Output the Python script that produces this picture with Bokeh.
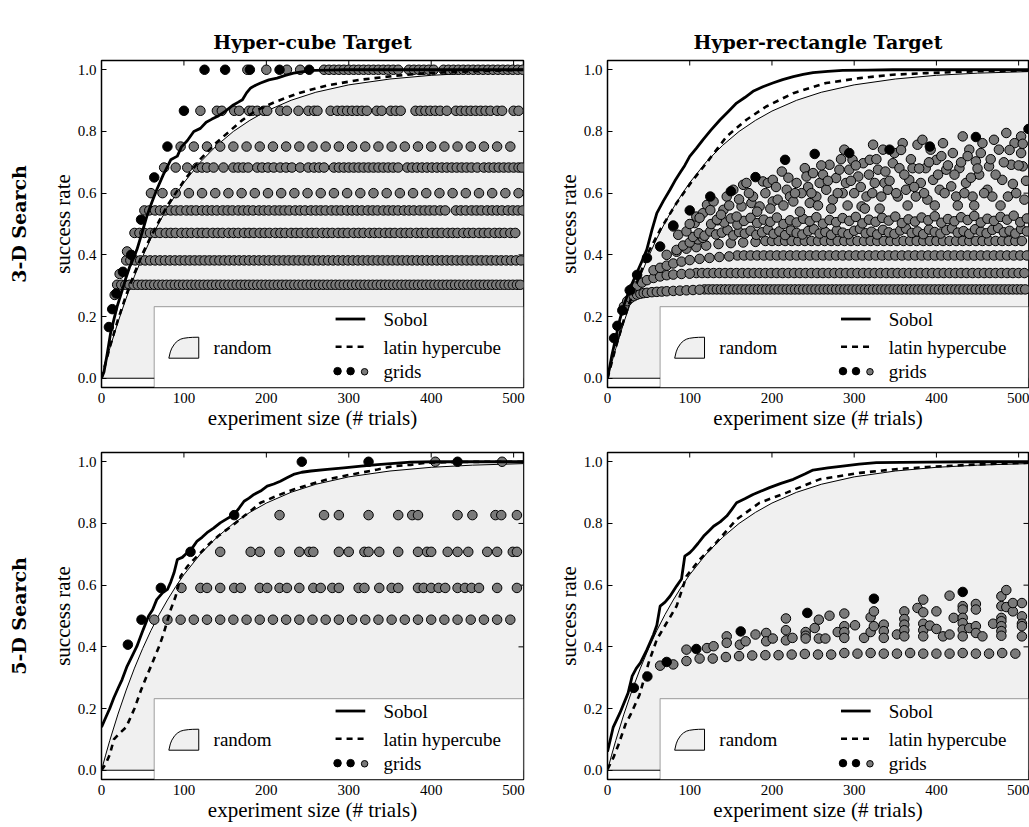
from bokeh.plotting import figure
from bokeh.models import (Range1d, FixedTicker, NumeralTickFormatter, LinearAxis,
                          Title, BoxAnnotation, Label)
from bokeh.layouts import column, row
from bokeh.embed import file_html
from bokeh.resources import INLINE

# ---------------------------------------------------------------- data
X_TICKS = [0, 100, 200, 300, 400, 500]
Y_TICKS = [0.0, 0.2, 0.4, 0.6, 0.8, 1.0]
COL_TITLES = ["Hyper-cube Target", "Hyper-rectangle Target"]
ROW_TITLES = ["3-D Search", "5-D Search"]

RANDOM_N = [0, 5, 10, 20, 30, 40, 50, 60, 70, 80, 90, 100, 120, 140, 160, 180, 200, 230, 260, 300, 350, 400, 450, 512]
RANDOM_RATE = [0, 0.049, 0.096, 0.182, 0.26, 0.331, 0.395, 0.453, 0.505, 0.552, 0.595, 0.634, 0.701, 0.755, 0.800, 0.836, 0.866, 0.901, 0.927, 0.951, 0.970, 0.982, 0.989, 0.994]

# --- 3-D, hyper-cube
TL_SOBOL_N = [0, 3, 7, 11, 15, 19, 24, 29, 34, 39, 43, 49, 55, 61, 67, 75, 84, 92, 97, 104, 112, 120, 127, 134, 141, 150, 160, 166, 171, 176, 181, 187, 193, 203, 213, 223, 233, 245, 258, 275, 294, 512]
TL_SOBOL_Y = [0, 0.02, 0.08, 0.146, 0.19, 0.233, 0.275, 0.32, 0.36, 0.39, 0.417, 0.47, 0.525, 0.57, 0.611, 0.66, 0.708, 0.72, 0.75, 0.77, 0.80, 0.81, 0.83, 0.84, 0.849, 0.865, 0.886, 0.895, 0.903, 0.925, 0.941, 0.95, 0.957, 0.967, 0.973, 0.982, 0.989, 0.994, 0.998, 0.999, 1.0, 1.0]
TL_LHS_N = [0, 5, 10, 20, 30, 40, 50, 60, 70, 80, 90, 100, 120, 140, 155, 170, 187, 210, 240, 275, 315, 355, 400, 450, 512]
TL_LHS_Y = [0, 0.05, 0.1, 0.19, 0.27, 0.34, 0.405, 0.46, 0.51, 0.56, 0.6, 0.64, 0.71, 0.765, 0.80, 0.835, 0.867, 0.895, 0.925, 0.95, 0.968, 0.98, 0.99, 0.995, 1.0]
TL_ROW_LEVELS = [1.0, 0.867, 0.751, 0.683, 0.600, 0.544, 0.471, 0.382, 0.303]
TL_ROW_1000 = [177, 200, 225, 241, 270, 276, 282, 288, 294, 300, 306, 312, 318, 324, 330, 336, 342, 348, 354, 360, 373, 379, 385, 391, 397, 403, 415, 421, 427, 433, 439, 445, 451, 457, 463, 469, 475, 481, 487, 493, 499, 505, 511]
TL_ROW_0867 = [120, 140, 146, 161, 167, 179, 183, 189, 197, 201, 217, 225, 239, 251, 258, 262, 278, 286, 292, 298, 304, 310, 316, 322, 334, 340, 351, 357, 363, 381, 387, 393, 399, 405, 411, 419, 430, 436, 442, 448, 454, 460, 466, 472, 480, 486, 500, 506]
TL_ROW_0751 = [96, 112, 128, 144, 160, 176, 192, 208, 224, 240, 256, 272, 288, 304, 320, 336, 352, 368, 384, 400, 416, 432, 448, 464, 480, 496]
TL_ROW_0683 = [76, 90, 104, 116, 122, 128, 136, 148, 160, 166, 172, 178, 189, 195, 202, 209, 217, 224, 231, 241, 251, 258, 264, 270, 282, 288, 294, 300, 306, 312, 318, 324, 330, 336, 342, 348, 354, 360, 371, 377, 383, 389, 395, 401, 407, 413, 419, 425, 431, 437, 443, 449, 456, 464, 470, 476, 482, 488, 494, 500, 506, 510]
TL_ROW_0600 = [60, 74, 90, 106, 122, 138, 154, 170, 186, 202, 218, 234, 250, 266, 282, 298, 314, 330, 346, 362, 378, 394, 410, 426, 442, 458, 474, 490, 506]
TL_ROW_0544 = [52, 58, 65, 71, 77, 84, 90, 96, 103, 109, 115, 122, 128, 134, 140, 147, 153, 159, 166, 172, 178, 184, 191, 197, 203, 210, 216, 222, 228, 235, 241, 247, 254, 260, 266, 272, 279, 285, 291, 298, 304, 310, 316, 323, 329, 335, 342, 348, 354, 360, 367, 373, 379, 386, 392, 398, 404, 411, 417, 430, 436, 442, 449, 455, 461, 468, 474, 480, 486, 493, 499, 505, 511]
TL_ROW_0471 = [40, 46, 52, 59, 65, 71, 78, 84, 90, 97, 103, 109, 116, 122, 128, 135, 141, 147, 154, 160, 166, 173, 179, 185, 192, 198, 204, 211, 217, 223, 230, 236, 242, 249, 255, 261, 268, 274, 280, 287, 293, 299, 306, 312, 318, 325, 331, 337, 344, 350, 356, 363, 369, 375, 382, 388, 394, 401, 407, 413, 420, 426, 432, 439, 445, 451, 458, 464, 470, 477, 483, 489, 496, 502]
TL_ROW_0382 = [30, 35, 41, 47, 53, 59, 65, 71, 77, 83, 89, 95, 101, 107, 113, 119, 125, 131, 137, 143, 149, 155, 161, 167, 173, 179, 185, 191, 197, 203, 209, 215, 221, 227, 233, 239, 245, 251, 257, 263, 269, 275, 281, 287, 293, 299, 305, 311, 317, 323, 329, 335, 341, 347, 353, 359, 365, 371, 377, 383, 389, 395, 401, 407, 413, 419, 425, 431, 437, 443, 449, 455, 461, 467, 473, 479, 485, 491, 497, 503, 509]
TL_ROW_0303 = [19, 24, 29, 34, 39, 44, 49, 54, 59, 64, 69, 74, 79, 84, 89, 94, 99, 104, 109, 114, 119, 124, 129, 134, 139, 144, 149, 154, 159, 164, 169, 174, 179, 184, 189, 194, 199, 204, 209, 214, 219, 224, 229, 234, 239, 244, 249, 254, 259, 264, 269, 274, 279, 284, 289, 294, 299, 304, 309, 314, 319, 324, 329, 334, 339, 344, 349, 354, 359, 364, 369, 374, 379, 384, 389, 394, 399, 404, 409, 414, 419, 424, 429, 434, 439, 444, 449, 454, 459, 464, 469, 474, 479, 484, 489, 494, 499, 504, 508]
TL_GRAY_EXTRA = [(16, 0.27), (22, 0.338), (31, 0.411)]
TL_BLACK = [(9, 0.166), (13, 0.224), (18, 0.275), (26, 0.345), (36, 0.40), (48, 0.514), (64, 0.651), (80, 0.751), (100, 0.867), (125, 1.0), (150, 1.0), (180, 1.0), (216, 1.0), (252, 1.0)]

# --- 3-D, hyper-rectangle
TR_SOBOL_N = [0, 5, 10, 15, 19.5, 27, 35.6, 42, 47.8, 54, 60, 68, 76, 82, 88, 94, 100, 108, 116, 126, 137, 147, 157, 167, 177, 189, 201, 213, 226, 238, 250, 268, 286, 316, 347, 512]
TR_SOBOL_Y = [0, 0.07, 0.13, 0.19, 0.233, 0.29, 0.341, 0.38, 0.417, 0.48, 0.535, 0.575, 0.611, 0.64, 0.665, 0.69, 0.719, 0.745, 0.773, 0.805, 0.838, 0.865, 0.892, 0.91, 0.93, 0.945, 0.957, 0.968, 0.978, 0.985, 0.991, 0.995, 0.998, 0.999, 1.0, 1.0]
TR_LHS_N = [0, 5, 10, 20, 30, 40, 50, 64, 84, 104, 121, 145, 169, 193, 226, 266, 307, 347, 388, 448, 512]
TR_LHS_Y = [0, 0.05, 0.1, 0.19, 0.27, 0.34, 0.41, 0.481, 0.568, 0.643, 0.70, 0.784, 0.838, 0.881, 0.924, 0.957, 0.973, 0.984, 0.989, 0.995, 0.998]
TR_ROW_LEVELS = [0.288, 0.341, 0.398, 0.445]
TR_ROW_A = [118, 123, 128, 133, 138, 143, 148, 153, 158, 163, 168, 173, 178, 183, 188, 193, 198, 203, 208, 213, 218, 223, 228, 233, 238, 243, 248, 253, 258, 263, 268, 273, 278, 283, 288, 293, 298, 303, 308, 313, 318, 323, 328, 333, 338, 343, 348, 353, 358, 363, 368, 373, 378, 383, 388, 393, 398, 403, 408, 413, 418, 423, 428, 433, 438, 443, 448, 453, 458, 463, 468, 473, 478, 483, 488, 493, 498, 503, 508]
TR_ROW_B = [108, 115, 122, 129, 136, 143, 150, 157, 164, 171, 178, 185, 192, 199, 206, 213, 220, 227, 234, 241, 248, 255, 262, 269, 276, 283, 290, 297, 304, 311, 318, 325, 332, 339, 346, 353, 360, 367, 374, 381, 388, 395, 402, 409, 416, 423, 430, 437, 444, 451, 458, 465, 472, 479, 486, 493, 500, 507]
TR_ROW_C = [158, 166, 174, 182, 190, 198, 206, 214, 222, 230, 238, 246, 254, 262, 270, 278, 286, 294, 302, 310, 318, 326, 334, 342, 350, 358, 366, 374, 382, 390, 398, 406, 414, 422, 430, 438, 446, 454, 462, 470, 478, 486, 494, 502, 510]
TR_ROW_D = [192, 200, 208, 216, 224, 232, 240, 248, 256, 264, 272, 280, 288, 296, 304, 312, 320, 328, 336, 344, 352, 360, 368, 376, 384, 392, 400, 408, 416, 424, 432, 440, 448, 456, 464, 472, 480, 488, 496, 504]
TR_RISE = [(20, 0.233), (24, 0.25), (28, 0.26), (32, 0.266), (36, 0.271), (40, 0.274), (44, 0.276), (48, 0.277), (54, 0.279), (60, 0.28), (66, 0.281), (72, 0.282), (80, 0.283), (88, 0.284), (96, 0.285), (104, 0.286), (112, 0.287),
           (30, 0.29), (36, 0.30), (42, 0.31), (48, 0.318), (56, 0.325), (64, 0.33), (72, 0.334), (80, 0.336), (90, 0.338), (100, 0.339),
           (56, 0.35), (64, 0.358), (72, 0.365), (80, 0.372), (90, 0.378), (100, 0.383), (112, 0.387), (124, 0.39), (136, 0.393), (148, 0.395),
           (72, 0.40), (84, 0.41), (96, 0.42), (108, 0.425), (120, 0.43), (135, 0.435), (150, 0.438), (165, 0.44), (180, 0.442),
           (84, 0.416), (92, 0.43), (100, 0.44), (110, 0.45), (116, 0.455)]
TR_BAND_E = [(104, 0.458), (111, 0.47), (118, 0.462), (125, 0.476), (132, 0.466), (139, 0.472), (146, 0.48), (153, 0.463), (160, 0.474), (167, 0.469), (174, 0.478), (181, 0.465), (188, 0.473), (195, 0.482), (202, 0.468), (209, 0.476), (216, 0.464), (223, 0.479), (230, 0.471), (237, 0.466), (244, 0.477), (251, 0.483), (258, 0.469), (265, 0.474), (272, 0.465), (279, 0.48), (286, 0.472), (293, 0.467), (300, 0.478), (307, 0.484), (314, 0.47), (321, 0.475), (328, 0.466), (335, 0.481), (342, 0.473), (349, 0.468), (356, 0.479), (363, 0.485), (370, 0.471), (377, 0.476), (384, 0.467), (391, 0.482), (398, 0.474), (405, 0.469), (412, 0.48), (419, 0.486), (426, 0.472), (433, 0.477), (440, 0.468), (447, 0.483), (454, 0.475), (461, 0.47), (468, 0.481), (475, 0.487), (482, 0.473), (489, 0.478), (496, 0.469), (503, 0.484), (510, 0.476)]
TR_BAND_F = [(126, 0.50), (134, 0.512), (142, 0.505), (150, 0.518), (158, 0.498), (166, 0.51), (174, 0.52), (182, 0.503), (190, 0.514), (198, 0.507), (206, 0.521), (214, 0.5), (222, 0.512), (230, 0.505), (238, 0.517), (246, 0.509), (254, 0.522), (262, 0.501), (270, 0.513), (278, 0.506), (286, 0.519), (294, 0.51), (302, 0.523), (310, 0.502), (318, 0.514), (326, 0.507), (334, 0.52), (342, 0.511), (350, 0.524), (358, 0.503), (366, 0.515), (374, 0.508), (382, 0.521), (390, 0.512), (398, 0.525), (406, 0.504), (414, 0.516), (422, 0.509), (430, 0.522), (438, 0.513), (446, 0.526), (454, 0.505), (462, 0.517), (470, 0.51), (478, 0.523), (486, 0.514), (494, 0.527), (502, 0.506), (510, 0.518)]
TR_SCATTER = [(80, 0.492), (86, 0.465), (96, 0.476), (106, 0.503), (108, 0.524), (116, 0.535), (121, 0.562), (129, 0.573), (133, 0.514), (141, 0.546), (145, 0.589), (153, 0.611), (157, 0.524), (163, 0.557), (165, 0.627), (169, 0.633), (175, 0.568), (177, 0.589), (185, 0.557), (189, 0.638), (195, 0.633), (201, 0.643), (201, 0.573), (207, 0.579), (212, 0.670), (218, 0.611), (222, 0.589), (226, 0.573), (230, 0.633), (236, 0.600), (240, 0.681), (242, 0.654), (246, 0.568), (250, 0.665), (254, 0.589), (258, 0.633), (262, 0.660), (266, 0.611), (270, 0.692), (274, 0.579), (278, 0.649), (282, 0.676), (286, 0.600), (288, 0.741), (290, 0.633), (294, 0.676), (298, 0.708), (300, 0.600), (305, 0.654), (309, 0.557), (311, 0.697), (315, 0.589), (319, 0.708), (323, 0.757), (325, 0.633), (329, 0.676), (333, 0.589), (335, 0.741), (337, 0.633), (341, 0.611), (347, 0.697), (349, 0.730), (353, 0.589), (355, 0.681), (359, 0.762), (363, 0.611), (367, 0.643), (371, 0.681), (375, 0.589), (377, 0.757), (381, 0.633), (383, 0.773), (387, 0.681), (389, 0.579), (393, 0.741), (396, 0.643), (400, 0.708), (404, 0.611), (408, 0.762), (412, 0.676), (418, 0.622), (420, 0.730), (424, 0.589), (428, 0.681), (432, 0.784), (436, 0.633), (440, 0.741), (444, 0.589), (448, 0.703), (452, 0.660), (456, 0.762), (462, 0.611), (464, 0.687), (468, 0.589), (470, 0.773), (476, 0.741), (480, 0.643), (485, 0.795), (487, 0.589), (491, 0.692), (495, 0.762), (503, 0.730), (505, 0.687), (507, 0.579), (503, 0.784),
              (100, 0.50), (112, 0.52), (125, 0.545), (138, 0.53), (148, 0.56), (160, 0.58), (172, 0.60), (182, 0.54), (192, 0.60), (198, 0.55), (205, 0.62), (214, 0.56), (220, 0.65), (228, 0.60), (234, 0.54), (244, 0.62), (248, 0.60), (256, 0.56), (260, 0.69), (268, 0.64), (272, 0.55), (280, 0.60), (284, 0.71), (292, 0.56), (296, 0.64), (302, 0.69), (308, 0.62), (313, 0.55), (318, 0.66), (322, 0.60), (327, 0.71), (331, 0.55), (338, 0.67), (343, 0.64), (351, 0.60), (357, 0.74), (361, 0.66), (365, 0.56), (369, 0.71), (373, 0.62), (379, 0.68), (385, 0.60), (391, 0.70), (398, 0.56), (402, 0.66), (406, 0.72), (410, 0.60), (414, 0.69), (422, 0.66), (426, 0.56), (430, 0.70), (434, 0.60), (438, 0.72), (442, 0.65), (446, 0.56), (450, 0.68), (454, 0.73), (458, 0.60), (466, 0.71), (472, 0.66), (478, 0.56), (482, 0.70), (489, 0.74), (493, 0.63), (497, 0.60), (500, 0.69), (505, 0.76), (509, 0.64)]
TR_BLACK = [(8, 0.13), (12, 0.17), (18, 0.22), (27, 0.285), (36, 0.335), (48, 0.39), (64, 0.427), (80, 0.495), (100, 0.544), (125, 0.589), (150, 0.606), (180, 0.652), (216, 0.708), (252, 0.727), (294, 0.73), (343, 0.741), (392, 0.751), (448, 0.782), (512, 0.808)]

# --- 5-D, hyper-cube
BL_SOBOL_N = [0, 5, 10, 15, 20, 25, 31, 38, 43, 49, 57, 62, 67, 74, 80, 84, 88, 92, 98, 104, 110, 116, 122, 128, 136, 144, 152, 161, 167, 173, 179, 185, 193, 201, 209, 217, 225, 233, 243, 254, 274, 294, 315, 335, 355, 375, 405, 436, 470, 512]
BL_SOBOL_Y = [0.14, 0.17, 0.2, 0.235, 0.265, 0.294, 0.337, 0.375, 0.402, 0.445, 0.499, 0.52, 0.553, 0.575, 0.586, 0.61, 0.64, 0.683, 0.69, 0.705, 0.72, 0.743, 0.755, 0.77, 0.785, 0.802, 0.815, 0.829, 0.85, 0.872, 0.882, 0.894, 0.905, 0.921, 0.928, 0.937, 0.948, 0.959, 0.966, 0.970, 0.975, 0.980, 0.986, 0.991, 0.995, 0.999, 1.0, 1.0, 1.0, 1.0]
BL_LHS_N = [0, 5, 10, 15, 22, 30, 40, 48, 54, 60, 65, 70, 75, 78, 84, 90, 96, 104, 112, 122, 132, 142, 152, 162, 173, 183, 193, 213, 233, 253, 274, 294, 314, 335, 355, 375, 395, 430, 470, 512]
BL_LHS_Y = [0, 0.02, 0.05, 0.1, 0.12, 0.14, 0.2, 0.26, 0.3, 0.337, 0.37, 0.402, 0.44, 0.467, 0.521, 0.564, 0.629, 0.66, 0.683, 0.71, 0.737, 0.76, 0.78, 0.80, 0.824, 0.845, 0.867, 0.89, 0.91, 0.927, 0.943, 0.954, 0.964, 0.975, 0.986, 0.99, 0.997, 0.999, 1.0, 1.0]
BL_ROW_LEVELS = [1.0, 0.827, 0.708, 0.591, 0.488]
BL_ROW_1000 = [405, 486]
BL_ROW_0827 = [216, 270, 288, 324, 360, 377, 384, 432, 450, 478, 485, 504]
BL_ROW_0708 = [144, 181, 192, 216, 240, 252, 257, 288, 300, 319, 324, 337, 360, 384, 395, 400, 420, 432, 445, 468, 480, 499, 504]
BL_ROW_0591 = [97, 120, 128, 144, 161, 169, 192, 201, 216, 225, 240, 257, 266, 280, 288, 312, 319, 337, 352, 360, 384, 391, 400, 409, 417, 432, 441, 449, 458, 480, 504]
BL_ROW_0488 = [64, 80, 96, 112, 128, 144, 160, 176, 192, 208, 224, 240, 256, 272, 288, 304, 320, 336, 352, 368, 384, 400, 416, 432, 448, 464, 480, 496]
BL_BLACK = [(32, 0.407), (48.5, 0.488), (72, 0.591), (108, 0.708), (161, 0.827), (243, 1.0), (324, 1.0), (432, 1.0)]

# --- 5-D, hyper-rectangle
BR_SOBOL_N = [0, 7, 15, 25, 30, 35, 40, 48, 56, 60, 64, 70, 76, 84, 90, 94, 100, 104, 110, 117, 123, 129, 137, 145, 151, 157, 167, 177, 187, 197, 211, 226, 240, 250, 268, 286, 306, 327, 357, 388, 450, 512]
BR_SOBOL_Y = [0.06, 0.14, 0.185, 0.25, 0.305, 0.33, 0.348, 0.391, 0.44, 0.47, 0.532, 0.545, 0.564, 0.597, 0.62, 0.694, 0.705, 0.716, 0.735, 0.759, 0.775, 0.791, 0.805, 0.824, 0.845, 0.867, 0.88, 0.894, 0.905, 0.916, 0.93, 0.943, 0.96, 0.973, 0.98, 0.986, 0.992, 0.997, 0.998, 0.999, 1.0, 1.0]
BR_LHS_N = [0, 7, 13, 22, 28, 39, 50, 60, 72, 84, 90, 96, 112, 132, 157, 185, 218, 258, 307, 347, 388, 448, 512]
BR_LHS_Y = [0.003, 0.04, 0.08, 0.15, 0.18, 0.245, 0.348, 0.424, 0.478, 0.532, 0.58, 0.629, 0.683, 0.737, 0.813, 0.867, 0.9, 0.943, 0.964, 0.975, 0.983, 0.991, 0.997]
BR_LOW_X = [64, 80, 96, 112, 128, 144, 160, 176, 192, 208, 224, 240, 256, 272, 288, 304, 320, 336, 352, 368, 384, 400, 416, 432, 448, 464, 480, 496]
BR_LOW_Y = [0.339, 0.343, 0.354, 0.362, 0.362, 0.367, 0.370, 0.372, 0.373, 0.373, 0.375, 0.377, 0.375, 0.375, 0.380, 0.378, 0.380, 0.378, 0.378, 0.380, 0.378, 0.378, 0.378, 0.380, 0.378, 0.378, 0.380, 0.378]
BR_SCATTER = [(96, 0.391), (121, 0.396), (129, 0.402), (145, 0.434), (145, 0.413), (161, 0.407), (168, 0.418), (180, 0.44), (193, 0.445), (193, 0.418), (201, 0.427), (217, 0.492), (217, 0.454), (217, 0.421), (225, 0.429), (241, 0.448), (241, 0.436), (241, 0.427), (252, 0.461), (257, 0.488), (257, 0.427), (265, 0.427), (270, 0.501), (280, 0.448), (288, 0.508), (288, 0.467), (288, 0.448), (288, 0.429), (301, 0.47), (312, 0.429), (320, 0.448), (320, 0.496), (324, 0.515), (324, 0.467), (336, 0.472), (336, 0.451), (336, 0.429), (352, 0.44), (361, 0.515), (361, 0.49), (361, 0.472), (361, 0.454), (361, 0.434), (377, 0.526), (384, 0.553), (384, 0.512), (384, 0.475), (384, 0.454), (384, 0.434), (392, 0.469), (400, 0.515), (400, 0.458), (408, 0.434), (416, 0.44), (416, 0.566), (421, 0.494), (432, 0.532), (432, 0.521), (432, 0.494), (432, 0.477), (432, 0.456), (432, 0.434), (440, 0.461), (448, 0.539), (448, 0.521), (448, 0.467), (448, 0.445), (456, 0.434), (469, 0.475), (479, 0.564), (479, 0.532), (479, 0.494), (479, 0.483), (479, 0.467), (479, 0.451), (479, 0.436), (485, 0.584), (485, 0.529), (493, 0.515), (493, 0.542), (504, 0.542), (504, 0.499), (504, 0.475), (504, 0.467), (504, 0.434)]
BR_BLACK = [(32, 0.267), (48.5, 0.304), (72, 0.351), (108, 0.393), (162, 0.45), (243, 0.51), (324, 0.556), (432, 0.578)]

# ---------------------------------------------------------------- style
FONT = "Liberation Serif"
TITLE_FONT = "DejaVu Serif"
GRAY_DOT = "#7a7a7a"
FILL = "#f0f0f0"
X_MAX = 512
Y_MIN, Y_MAX = -0.03, 1.03
FRAME_W, FRAME_H = 422, 327
TICK_PX = 5
LEG_BOX = dict(left=64, right=512, bottom=-0.03, top=0.232)


def style_axis(ax):
    ax.major_tick_in = TICK_PX
    ax.major_tick_out = 0
    ax.minor_tick_line_color = None
    ax.axis_line_color = None
    ax.major_tick_line_width = 1
    ax.major_label_text_font = FONT
    ax.major_label_text_font_size = "15px"
    ax.major_label_text_color = "black"
    ax.major_label_standoff = 5
    ax.axis_label_text_font = FONT
    ax.axis_label_text_font_size = "21px"
    ax.axis_label_text_font_style = "normal"
    ax.axis_label_text_color = "black"
    ax.axis_label_standoff = 0


def flat_rows(levels, rows):
    xs, ys = [], []
    for lev, r in zip(levels, rows):
        xs += list(r)
        ys += [lev] * len(r)
    return xs, ys


def panel(width, height, bl, br, bt, bb, col_title, row_title,
          sobol, lhs, gray_x, gray_y, black):
    p = figure(width=width, height=height, x_range=Range1d(0, X_MAX),
               y_range=Range1d(Y_MIN, Y_MAX), output_backend="svg",
               toolbar_location=None, title=None,
               min_border_left=bl, min_border_right=br,
               min_border_top=bt, min_border_bottom=bb)
    p.background_fill_color = "white"
    p.border_fill_color = "white"
    p.outline_line_color = "black"
    p.outline_line_width = 1.5
    p.xgrid.visible = False
    p.ygrid.visible = False
    p.xaxis.ticker = FixedTicker(ticks=X_TICKS)
    p.yaxis.ticker = FixedTicker(ticks=Y_TICKS)
    p.yaxis.formatter = NumeralTickFormatter(format="0.0")
    p.xaxis.axis_label = "experiment size (# trials)"
    p.yaxis.axis_label = "success rate"
    style_axis(p.xaxis[0])
    style_axis(p.yaxis[0])
    if col_title:
        p.add_layout(Title(text=col_title, align="center", text_font=TITLE_FONT,
                           text_font_size="19px", text_font_style="bold",
                           text_color="black", standoff=16), "above")
    if row_title:
        # vertical row label: an extra tick-less axis whose label is the row title
        rax = LinearAxis(ticker=FixedTicker(ticks=[]), axis_label=row_title,
                         axis_line_color=None, major_tick_line_color=None,
                         minor_tick_line_color=None, major_tick_out=0,
                         major_tick_in=0, major_label_standoff=0,
                         axis_label_standoff=18, axis_label_text_font=TITLE_FONT,
                         axis_label_text_font_size="19px",
                         axis_label_text_font_style="bold",
                         axis_label_text_color="black")
        p.add_layout(rax, "left")

    # random: filled area under curve
    p.patch(RANDOM_N + [X_MAX, 0], RANDOM_RATE + [0, 0], fill_color=FILL,
            line_color="black", line_width=1)
    # inward ticks on the top and right frame edges
    dy = TICK_PX * (Y_MAX - Y_MIN) / FRAME_H
    dx = TICK_PX * X_MAX / FRAME_W
    p.segment(X_TICKS, [Y_MAX] * len(X_TICKS), X_TICKS, [Y_MAX - dy] * len(X_TICKS),
              line_color="black", line_width=1)
    p.segment([X_MAX] * len(Y_TICKS), Y_TICKS, [X_MAX - dx] * len(Y_TICKS), Y_TICKS,
              line_color="black", line_width=1)
    # grids
    p.scatter(gray_x, gray_y, size=9.5, fill_color=GRAY_DOT,
              line_color="black", line_width=1)
    p.scatter([b[0] for b in black], [b[1] for b in black], size=9.5,
              fill_color="black", line_color="black", line_width=1)
    # lines
    p.line(lhs[0], lhs[1], line_color="black", line_width=2.6, line_dash="6 5")
    p.line(sobol[0], sobol[1], line_color="black", line_width=2.8,
           line_join="round")

    # legend
    p.add_layout(BoxAnnotation(fill_color="white", fill_alpha=1.0,
                               line_color="black", line_width=1.2, **LEG_BOX))
    iu = [0, 0.05, 0.1, 0.2, 0.3, 0.4, 0.5, 0.65, 0.8, 1.0, 1.0, 0]
    iv = [0, 0.3, 0.48, 0.7, 0.83, 0.91, 0.95, 0.98, 0.995, 1.0, 0, 0]
    ix0, ix1, iy0, iy1 = 81.7, 118, 0.065, 0.133
    p.patch([ix0 + u * (ix1 - ix0) for u in iu], [iy0 + v * (iy1 - iy0) for v in iv],
            fill_color=FILL, line_color="black", line_width=1, level="overlay")
    p.line([284, 320], [0.192, 0.192], line_color="black", line_width=2.8,
           level="overlay")
    p.line([284, 320], [0.102, 0.102], line_color="black", line_width=2.6,
           line_dash="6 5", level="overlay")
    p.scatter([286.4, 302.2], [0.023, 0.023], size=7.5, fill_color="black",
              line_color="black", level="overlay")
    p.scatter([319.2], [0.021], size=6.5, fill_color=GRAY_DOT,
              line_color="black", line_width=1, level="overlay")
    for (tx, ty, t) in [(136, 0.101, "random"), (342, 0.19, "Sobol"),
                        (342, 0.101, "latin hypercube"), (342, 0.023, "grids")]:
        p.add_layout(Label(x=tx, y=ty, text=t, text_font=FONT,
                           text_font_size="19px", text_baseline="middle",
                           text_color="black", level="overlay"))
    return p


tl_x, tl_y = flat_rows(TL_ROW_LEVELS, [TL_ROW_1000, TL_ROW_0867, TL_ROW_0751, TL_ROW_0683,
                                       TL_ROW_0600, TL_ROW_0544, TL_ROW_0471, TL_ROW_0382, TL_ROW_0303])
tl_x += [a for a, b in TL_GRAY_EXTRA]
tl_y += [b for a, b in TL_GRAY_EXTRA]

tr_x, tr_y = flat_rows(TR_ROW_LEVELS, [TR_ROW_A, TR_ROW_B, TR_ROW_C, TR_ROW_D])
for pts in (TR_RISE, TR_BAND_E, TR_BAND_F, TR_SCATTER):
    tr_x += [a for a, b in pts]
    tr_y += [b for a, b in pts]

bl_x, bl_y = flat_rows(BL_ROW_LEVELS, [BL_ROW_1000, BL_ROW_0827, BL_ROW_0708, BL_ROW_0591, BL_ROW_0488])

br_x = list(BR_LOW_X) + [a for a, b in BR_SCATTER]
br_y = list(BR_LOW_Y) + [b for a, b in BR_SCATTER]

p_tl = panel(550, 440, 101, 27, 60, 53, COL_TITLES[0], ROW_TITLES[0],
             (TL_SOBOL_N, TL_SOBOL_Y), (TL_LHS_N, TL_LHS_Y), tl_x, tl_y, TL_BLACK)
p_tr = panel(479, 440, 57, 1, 60, 53, COL_TITLES[1], None,
             (TR_SOBOL_N, TR_SOBOL_Y), (TR_LHS_N, TR_LHS_Y), tr_x, tr_y, TR_BLACK)
p_bl = panel(550, 387, 101, 27, 12, 48, None, ROW_TITLES[1],
             (BL_SOBOL_N, BL_SOBOL_Y), (BL_LHS_N, BL_LHS_Y), bl_x, bl_y, BL_BLACK)
p_br = panel(479, 387, 57, 1, 12, 48, None, None,
             (BR_SOBOL_N, BR_SOBOL_Y), (BR_LHS_N, BR_LHS_Y), br_x, br_y, BR_BLACK)

layout = column(row(p_tl, p_tr), row(p_bl, p_br))
open("out.html", "w").write(file_html(layout, INLINE))
